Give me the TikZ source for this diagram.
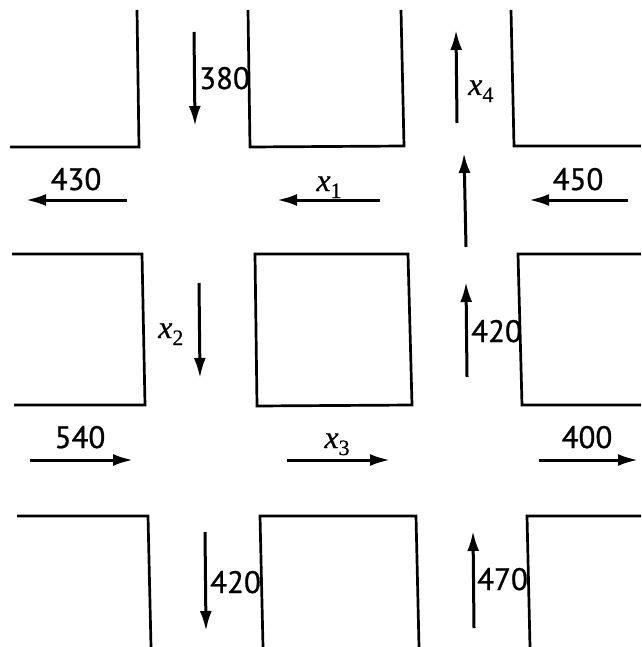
\documentclass[tikz,border=0pt]{standalone}
\usepackage{fontspec}
\usetikzlibrary{arrows.meta}
\newfontfamily\numfont[FakeBold=0.8]{PT Sans}
\newfontfamily\varfont[FakeBold=0.5]{Liberation Serif}
\newcommand{\xvar}[1]{{\varfont\itshape x}\raisebox{-0.22em}{\varfont\fontsize{22}{24}\selectfont #1}}
\begin{document}
\begin{tikzpicture}[x=1pt,y=-1pt,
  block/.style={line width=2.7pt,line join=miter},
  flow/.style={line width=3pt,-{Latex[length=20pt,width=12pt]}},
  lbl/.style={inner sep=0pt,font=\fontsize{31}{36}\selectfont\numfont},
  mlbl/.style={inner sep=0pt,font=\fontsize{32}{36}\selectfont}]
\useasboundingbox (0,0) rectangle (641,647);
% blocks, top row
\draw[block] (10,147) -- (139,147) -- (137,10);
\draw[block] (248,10) -- (250,147) -- (404,146) -- (401,10);
\draw[block] (511,10) -- (514,146) -- (641,146);
% blocks, middle row
\draw[block] (12,254) -- (142,254) -- (145,405) -- (14,405);
\draw[block] (255,254) -- (408,254) -- (412,405) -- (257,406) -- cycle;
\draw[block] (641,254) -- (518,254) -- (522,405) -- (641,405);
% blocks, bottom row
\draw[block] (17,516) -- (148,516) -- (151,647);
\draw[block] (263,647) -- (260,516) -- (416,516) -- (419,647);
\draw[block] (641,516) -- (527,516) -- (530,647);
% arrow end points
\coordinate (a380s) at (194,32);  \coordinate (a380e) at (195,126);
\coordinate (x4s) at (457,123);   \coordinate (x4e) at (456,30);
\coordinate (upms) at (466,247);  \coordinate (upme) at (464,153);
\coordinate (a420s) at (467,377); \coordinate (a420e) at (466,282);
\coordinate (x2s) at (199,283);   \coordinate (x2e) at (200,378);
\coordinate (b420s) at (205,532); \coordinate (b420e) at (206,631);
\coordinate (a470s) at (474,628); \coordinate (a470e) at (473,531);
\coordinate (a430s) at (127,200); \coordinate (a430e) at (26,200);
\coordinate (x1s) at (380,200);   \coordinate (x1e) at (277,200);
\coordinate (a450s) at (628,200); \coordinate (a450e) at (529,200);
\coordinate (a540s) at (30,460);  \coordinate (a540e) at (133,460);
\coordinate (x3s) at (287,460);   \coordinate (x3e) at (390,460);
\coordinate (a400s) at (539,460); \coordinate (a400e) at (638,460);
% arrows
\foreach \a in {a380,x4,upm,a420,x2,b420,a470,a430,x1,a450,a540,x3,a400}
  \draw[flow] (\a s) -- (\a e);
% labels
\node[lbl,anchor=base west] (l380) at (199,89) {380};
\node[mlbl,anchor=base west] (lx4) at (468,95) {\xvar{4}};
\node[lbl,anchor=base west] (l420a) at (471,342) {420};
\node[mlbl,anchor=base west] (lx2) at (158,338) {\xvar{2}};
\node[lbl,anchor=base west] (l420b) at (210,593) {420};
\node[lbl,anchor=base west] (l470) at (477,590) {470};
\node[lbl,anchor=base] (l430) at (76,190) {430};
\node[mlbl,anchor=base] (lx1) at (329,191) {\xvar{1}};
\node[lbl,anchor=base] (l450) at (578,190) {450};
\node[lbl,anchor=base] (l540) at (80,448) {540};
\node[mlbl,anchor=base] (lx3) at (337,448) {\xvar{3}};
\node[lbl,anchor=base] (l400) at (587,448) {400};
\end{tikzpicture}
\end{document}
